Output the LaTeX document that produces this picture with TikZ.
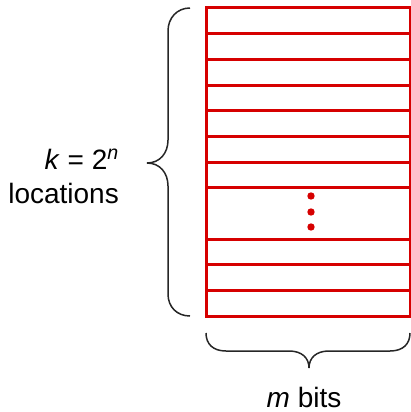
\documentclass[tikz,border=0pt]{standalone}
\usepackage{fontspec}
\setmainfont{Liberation Sans}
\definecolor{memred}{RGB}{214,0,0}
\begin{document}
\begin{tikzpicture}[x=1pt,y=-1pt,
  rowline/.style={draw=memred,line width=3pt},
  bracepath/.style={draw=black!85,line width=1.5pt},
  lbl/.style={font=\fontsize{28}{30}\selectfont,inner sep=0pt},
  memdot/.style={fill=memred,draw=none}]
\useasboundingbox (0,0) rectangle (411,412);
% memory block
\coordinate (tl) at (206,8);
\coordinate (br) at (410,316);
\foreach \yy in {8,33.7,59.3,85,110.7,136.3,162,187.7,239,264.7,290.3,316}
  \draw[rowline] (206,\yy) -- (410,\yy);
\draw[rowline] (tl) rectangle (br);
\foreach \yy [count=\i] in {196,212,227}
  \fill[memdot] (311,\yy) circle (3.7) coordinate (d\i);
% left brace
\coordinate (lb1) at (190,8);
\coordinate (lbtip) at (147,163);
\coordinate (lb2) at (190,316);
\draw[bracepath] (lb1) .. controls (177,8) and (168,18) .. (168,31) -- (168,140)
  .. controls (168,153) and (160,163) .. (lbtip)
  .. controls (160,163) and (168,173) .. (168,186) -- (168,294)
  .. controls (168,307) and (177,316) .. (lb2);
% bottom brace
\coordinate (bb1) at (206,333);
\coordinate (bbtip) at (309,368);
\coordinate (bb2) at (410,333);
\draw[bracepath] (bb1) .. controls (206,344) and (213,351) .. (226,351) -- (289,351)
  .. controls (302,351) and (309,358) .. (bbtip)
  .. controls (309,358) and (316,351) .. (329,351) -- (390,351)
  .. controls (403,351) and (410,344) .. (bb2);
% labels
\node[lbl,anchor=base east] (klab) at (119,169) {\textit{k} = 2\textsuperscript{\textit{n}}};
\node[lbl,anchor=base east] (loclab) at (119,203) {locations};
\node[lbl,anchor=base,text depth=0pt] (mlab) at (304,407) {\textit{m} bits};
\end{tikzpicture}
\end{document}
